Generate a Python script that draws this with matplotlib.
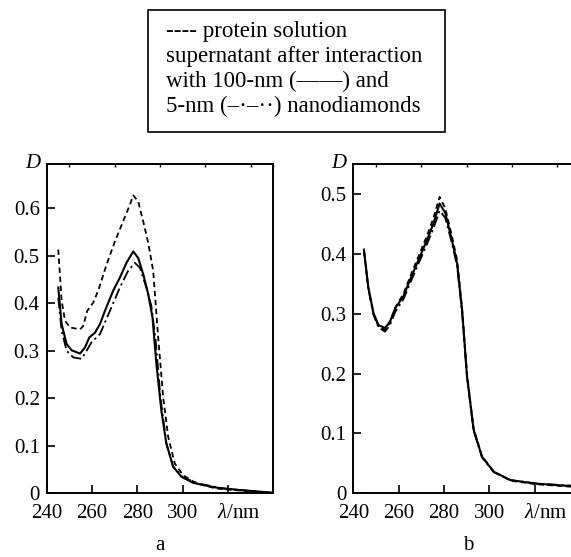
import matplotlib
matplotlib.use("Agg")
import matplotlib.pyplot as plt
import matplotlib.transforms as mtransforms
from matplotlib.patches import Rectangle
from matplotlib.ticker import MultipleLocator

# fonts: Times-like serif everywhere
plt.rcParams['font.family'] = ['Liberation Serif', 'DejaVu Serif']
plt.rcParams['mathtext.fontset'] = 'custom'
plt.rcParams['mathtext.rm'] = 'Liberation Serif'
plt.rcParams['mathtext.it'] = 'Liberation Serif:italic'

# ---- data, panel a ----
wl_a_prot = [245.1, 246.6, 248.1, 250.3, 254.7, 256.1, 257.9, 260.5, 262.7, 266.4, 270.1,
             273.7, 276.7, 278.2, 280.4, 282.6, 284.8, 287.0, 289.2, 291.4, 293.6, 296.5,
             300.2, 306.0, 314.8, 322.2, 340.0]
d_a_prot = [0.513, 0.405, 0.363, 0.349, 0.345, 0.352, 0.384, 0.401, 0.426, 0.481, 0.530,
            0.572, 0.607, 0.627, 0.614, 0.572, 0.527, 0.468, 0.328, 0.202, 0.119, 0.063,
            0.038, 0.021, 0.010, 0.007, 0.001]

wl_a_100 = [245.1, 246.6, 248.8, 251.0, 254.7, 256.9, 258.8, 261.3, 263.5, 265.7, 269.3,
            272.3, 275.2, 278.2, 280.4, 282.6, 284.8, 286.7, 288.4, 290.6, 292.8, 295.8,
            299.4, 304.6, 314.8, 325.1, 340.0]
d_a_100 = [0.433, 0.356, 0.314, 0.301, 0.294, 0.307, 0.328, 0.338, 0.356, 0.384, 0.426,
           0.454, 0.485, 0.509, 0.495, 0.461, 0.419, 0.370, 0.272, 0.174, 0.105, 0.056,
           0.035, 0.022, 0.012, 0.007, 0.001]

wl_a_5 = [245.1, 246.6, 248.8, 251.7, 255.4, 257.6, 259.8, 263.5, 267.9, 272.3, 275.9,
          278.9, 281.1, 284.0, 286.2, 288.1, 290.2, 292.8, 295.8, 300.2, 307.5, 319.2, 340.0]
d_a_5 = [0.412, 0.342, 0.300, 0.286, 0.283, 0.300, 0.318, 0.335, 0.384, 0.433, 0.468,
         0.485, 0.475, 0.433, 0.394, 0.321, 0.202, 0.105, 0.056, 0.033, 0.020, 0.009, 0.001]

# ---- data, panel b ----
wl_b = [244.7, 246.6, 248.9, 251.1, 254.0, 256.2, 258.5, 262.1, 265.1, 268.8, 272.5, 275.4,
        278.1, 280.6, 283.5, 285.8, 288.0, 290.2, 293.1, 296.8, 302.0, 309.4, 321.2, 340.0]
d_b_100 = [0.407, 0.345, 0.301, 0.281, 0.276, 0.287, 0.309, 0.329, 0.357, 0.390, 0.423, 0.451,
           0.484, 0.468, 0.423, 0.384, 0.306, 0.195, 0.106, 0.061, 0.036, 0.022, 0.016, 0.011]
d_b_prot = [0.405, 0.343, 0.300, 0.279, 0.273, 0.285, 0.310, 0.333, 0.362, 0.396, 0.430, 0.460,
            0.495, 0.476, 0.430, 0.390, 0.310, 0.198, 0.108, 0.062, 0.036, 0.021, 0.015, 0.010]
d_b_5 = [0.405, 0.342, 0.298, 0.277, 0.270, 0.281, 0.303, 0.324, 0.351, 0.384, 0.416, 0.443,
         0.472, 0.460, 0.418, 0.380, 0.303, 0.193, 0.105, 0.060, 0.035, 0.022, 0.016, 0.012]

x_ticks = [240, 260, 280, 300, 320]
x_labels = ['240', '260', '280', '300', r'$\lambda$/nm']

legend_lines = ['---- protein solution',
                'supernatant after interaction',
                'with 100-nm (——) and',
                '5-nm (–·–··) nanodiamonds']

W, H = 571, 557
fig = plt.figure(figsize=(W / 100, H / 100), dpi=100)

dash_style = (0, (3, 2))
dashdot_style = (0, (6, 2, 1.2, 2))


def setup_axes(ax, ymax, ystep, nticks):
    ax.set_xlim(240, 340)
    ax.set_ylim(0, ymax)
    ax.set_xticks(x_ticks)
    ax.set_xticklabels(x_labels)
    yt = [round(i * ystep, 1) for i in range(nticks)]
    ax.set_yticks(yt)
    ax.set_yticklabels(['0'] + [f'{v:.1f}' for v in yt[1:]])
    ax.xaxis.set_minor_locator(MultipleLocator(10))
    ax.tick_params(which='major', direction='in', length=6, width=1.2, labelsize=15,
                   top=False, right=False)
    ax.tick_params(axis='x', which='major', pad=8)
    ax.tick_params(axis='y', which='major', pad=5)
    ax.tick_params(which='minor', direction='in', length=2, width=1, top=True,
                   bottom=False, left=False, right=False)
    for s in ax.spines.values():
        s.set_linewidth(1.4)
    # lambda/nm label sits a bit right of its tick
    shift = mtransforms.ScaledTranslation(0.11, 0, fig.dpi_scale_trans)
    lab = ax.get_xticklabels()[-1]
    lab.set_transform(lab.get_transform() + shift)
    ax.text(-0.03, 1.0, 'D', transform=ax.transAxes, ha='right', va='center',
            fontsize=15, fontstyle='italic')


# panel a
ax1 = fig.add_axes([46.7 / W, 1 - 493.3 / H, 226.6 / W, 329.3 / H])
ax1.plot(wl_a_prot, d_a_prot, color='black', lw=1.3, ls=dash_style)
ax1.plot(wl_a_100, d_a_100, color='black', lw=1.5, ls='-')
ax1.plot(wl_a_5, d_a_5, color='black', lw=1.3, ls=dashdot_style)
setup_axes(ax1, 0.693, 0.1, 7)

# panel b (extends past the right edge, as in the original scan)
ax2 = fig.add_axes([353.3 / W, 1 - 493.3 / H, 226.6 / W, 329.3 / H])
ax2.plot(wl_b, d_b_prot, color='black', lw=1.3, ls=dash_style)
ax2.plot(wl_b, d_b_100, color='black', lw=1.5, ls='-')
ax2.plot(wl_b, d_b_5, color='black', lw=1.3, ls=dashdot_style)
setup_axes(ax2, 0.55, 0.1, 6)

# panel letters
fig.text(160 / W, 2 / H, 'a', ha='center', va='bottom', fontsize=15)
fig.text(468 / W, 2 / H, 'b', ha='center', va='bottom', fontsize=15)

# legend box
fig.patches.append(Rectangle((148 / W, 1 - 132 / H), 297 / W, 122 / H,
                             transform=fig.transFigure, fill=False,
                             edgecolor='black', linewidth=1.2))
for i, line in enumerate(legend_lines):
    fig.text(166 / W, 1 - (37 + 25 * i) / H, line, ha='left', va='baseline', fontsize=16.5)

fig.savefig('out.png', dpi=100)
